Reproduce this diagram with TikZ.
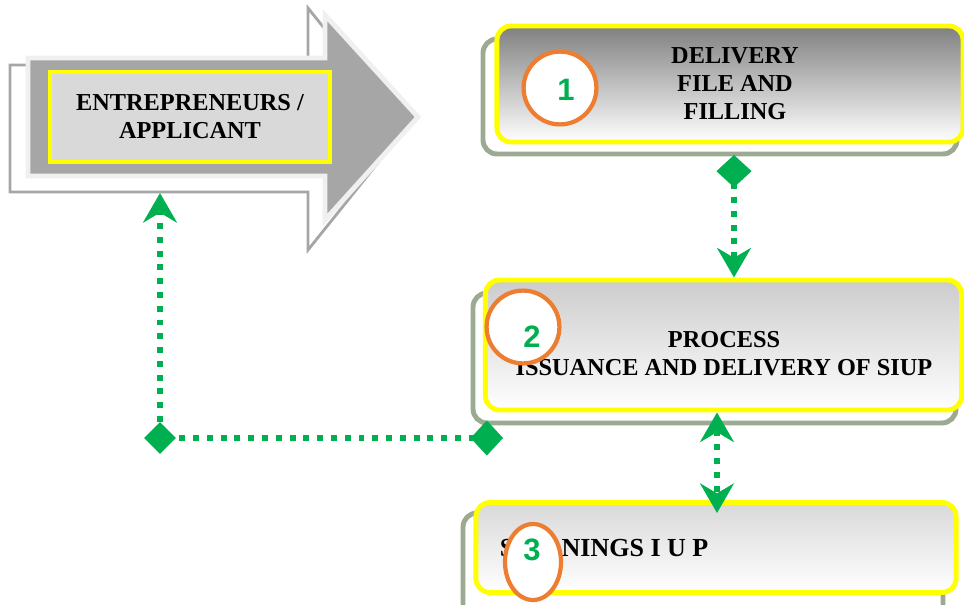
\documentclass[tikz,border=0pt]{standalone}
\usepackage{fontspec}
\setmainfont{Liberation Serif}
\newfontfamily\digitfont{Liberation Sans}
\usetikzlibrary{arrows.meta,shapes.geometric}
\definecolor{sigreen}{HTML}{00B050}
\definecolor{siorange}{HTML}{ED7D31}
\definecolor{siyellow}{HTML}{FFFF00}
\definecolor{shadowgreen}{HTML}{9CAA91}
\definecolor{arrowgray}{HTML}{A6A6A6}

\begin{document}
\begin{tikzpicture}[x=0.025cm,y=-0.025cm,
	lbl/.style={font=\fontsize{17.3}{20}\selectfont\bfseries,align=center},
	num/.style={font=\fontsize{22}{22}\selectfont\digitfont\bfseries,text=sigreen},
	stepbox/.style={draw=siyellow,line width=3.5pt,rounded corners=10pt,bottom color=white},
	boxshade/.style={draw=shadowgreen,line width=3.5pt,rounded corners=10pt,fill=white},
	ring/.style={draw=siorange,line width=3pt,fill=white,circle,minimum size=1.82cm},
	link/.style={sigreen,line width=4.2pt,dash pattern=on 4.2pt off 5.6pt},
	dmd/.tip={Turned Square[length=23pt,width=25pt]},
	stp/.tip={Stealth[length=21pt,width=24pt,inset=7pt]}]
	\useasboundingbox (0,0) rectangle (964,604);
	
	% applicant arrow
	\draw [arrowgray,line width=2pt,fill=white] (10,65) -- (308,65) -- (308,8) -- (405,129) -- (308,250) -- (308,192) -- (10,192) -- cycle;
	\draw [draw=gray!12,line width=3.5pt,fill=arrowgray] (28,58) -- (325,58) -- (325,15) -- (418,117) -- (325,220) -- (325,176) -- (28,176) -- cycle;
	\node (app) [draw=siyellow,line width=3pt,fill=gray!30,minimum width=7cm,minimum height=2.25cm,lbl] at (190,117) {ENTREPRENEURS /\\APPLICANT};
	
	% steps
	\draw [boxshade] (483,39) rectangle (957,154);
	\node (box1) [stepbox,top color=gray,minimum width=11.65cm,minimum height=2.9cm] at (730,84) {};
	\node (t1) [lbl] at (735,84) {DELIVERY\\FILE AND\\FILLING};
	
	\draw [boxshade] (473,293) rectangle (956,423);
	\node (box2) [stepbox,top color=gray!40,minimum width=11.9cm,minimum height=3.25cm] at (723.5,345) {};
	\node (t2) [lbl] at (724,354) {PROCESS\\ISSUANCE AND DELIVERY OF SIUP};
	
	\draw [boxshade] (463,513) rectangle (943,625);
	\node (box3) [stepbox,top color=gray!30,minimum width=12cm,minimum height=2.25cm] at (716,547.5) {};
	\node (t3) [lbl,anchor=west,font=\fontsize{18.5}{20}\selectfont\bfseries] at (495,548) {SIG\kern12pt NINGS I U P};
	
	% numbers
	\node (c1) [ring] at (560,88) {}; \node (n1) [num] at (566,90) {1};
	\node (c2) [ring] at (523,327) {}; \node (n2) [num] at (532,337) {2};
	\node (c3) [ring,ellipse,minimum width=1.4cm,minimum height=1.9cm] at (533,562) {};
	\node (n3) [num] at (532,550) {3};
	
	% connectors
	\coordinate (d1) at (734,155);
	\draw [link,dmd-stp] (d1) -- (d1 |- box2.north);
	\coordinate (m) at (717,0);
	\draw [link,stp-stp] (m |- box2.south) -- ([shift={(0,13)}]m |- box3.north);
	\coordinate (d2) at (503,438);
	\coordinate (foot) at (160,193);
	\node (corner) [diamond,fill=sigreen,inner sep=0pt,minimum width=0.8cm,minimum height=0.8cm] at (160,438) {};
	\draw [link,dmd-stp] (d2) -- (corner.center) -- (foot);
\end{tikzpicture}
\end{document}
